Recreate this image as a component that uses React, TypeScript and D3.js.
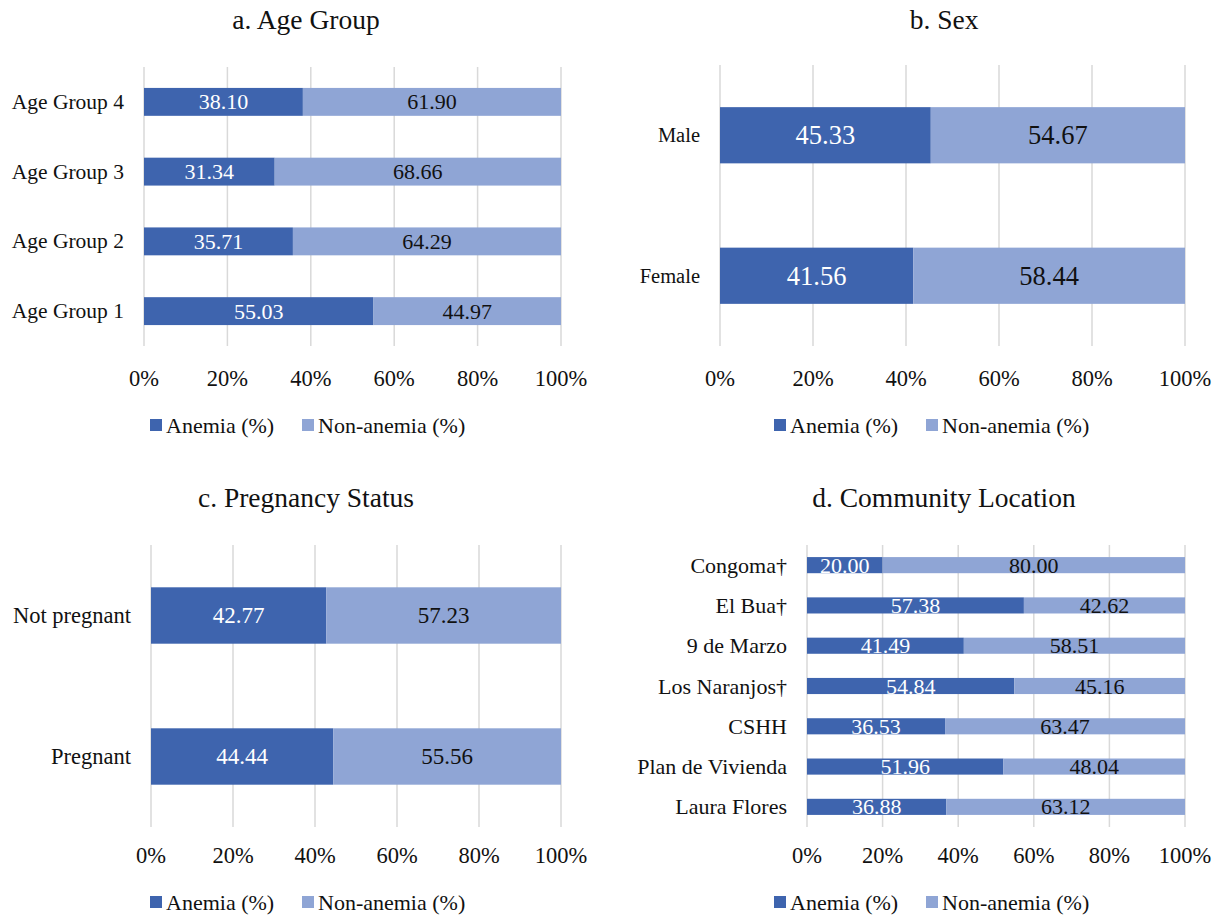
import React from 'react';
import * as d3 from 'd3';

// values (anemia %, non-anemia %)
const ageGroups = ['Age Group 4', 'Age Group 3', 'Age Group 2', 'Age Group 1'];
const ageAnemia = [38.10, 31.34, 35.71, 55.03];
const ageNonAnemia = [61.90, 68.66, 64.29, 44.97];

const sexes = ['Male', 'Female'];
const sexAnemia = [45.33, 41.56];
const sexNonAnemia = [54.67, 58.44];

const pregnancy = ['Not pregnant', 'Pregnant'];
const pregAnemia = [42.77, 44.44];
const pregNonAnemia = [57.23, 55.56];

const communities = ['Congoma†', 'El Bua†', '9 de Marzo', 'Los Naranjos†', 'CSHH', 'Plan de Vivienda', 'Laura Flores'];
const commAnemia = [20.00, 57.38, 41.49, 54.84, 36.53, 51.96, 36.88];
const commNonAnemia = [80.00, 42.62, 58.51, 45.16, 63.47, 48.04, 63.12];

const ticks = [0, 20, 40, 60, 80, 100];
const seriesNames = ['Anemia (%)', 'Non-anemia (%)'];

const DARK = '#3e64ae';
const LIGHT = '#8fa5d5';
const GRID = '#d9d9d9';
const FONT = '"Liberation Serif", serif';

type PanelProps = {
  title: string;
  titleX: number;
  titleY: number;
  cats: string[];
  a: number[];
  b: number[];
  x0: number;
  x1: number;
  y0: number;
  y1: number;
  tickY: number;
  legendY: number;
  legendX: number[];
  catSize: number;
  valSize: number;
};

function Panel(p: PanelProps) {
  const x = d3.scaleLinear().domain([0, 100]).range([p.x0, p.x1]);
  const y = d3.scaleBand().domain(p.cats).range([p.y0, p.y1]).paddingInner(0.6).paddingOuter(0.3);
  const bh = y.bandwidth();

  return (
    <g fontFamily={FONT}>
      <text x={p.titleX} y={p.titleY} textAnchor="middle" dominantBaseline="central" fontSize={27.5} fill="#111">
        {p.title}
      </text>
      {ticks.map(t => (
        <g key={t}>
          <line x1={x(t)} x2={x(t)} y1={p.y0} y2={p.y1} stroke={GRID} strokeWidth={1.5} />
          <text x={x(t)} y={p.tickY} textAnchor="middle" dominantBaseline="central" fontSize={22.5} fill="#111">
            {t + '%'}
          </text>
        </g>
      ))}
      {p.cats.map((c, i) => {
        const yy = y(c) as number;
        const cy = yy + bh / 2;
        return (
          <g key={c}>
            <text x={p.x0 - 20} y={cy} textAnchor="end" dominantBaseline="central" fontSize={p.catSize} fill="#111">
              {c}
            </text>
            <rect x={x(0)} y={yy} width={x(p.a[i]) - x(0)} height={bh} fill={DARK} />
            <rect x={x(p.a[i])} y={yy} width={x(p.a[i] + p.b[i]) - x(p.a[i])} height={bh} fill={LIGHT} />
            <text x={(x(0) + x(p.a[i])) / 2} y={cy} textAnchor="middle" dominantBaseline="central" fontSize={p.valSize} fill="#fff">
              {p.a[i].toFixed(2)}
            </text>
            <text x={(x(p.a[i]) + x(100)) / 2} y={cy} textAnchor="middle" dominantBaseline="central" fontSize={p.valSize} fill="#111">
              {p.b[i].toFixed(2)}
            </text>
          </g>
        );
      })}
      {seriesNames.map((s, i) => (
        <g key={s}>
          <rect x={p.legendX[i]} y={p.legendY - 6} width={12} height={12} fill={i === 0 ? DARK : LIGHT} />
          <text x={p.legendX[i] + 16} y={p.legendY} dominantBaseline="central" fontSize={22} fill="#111">
            {s}
          </text>
        </g>
      ))}
    </g>
  );
}

export default function App() {
  return (
    <svg width={1221} height={919} style={{ position: 'absolute', left: 0, top: 0, background: '#fff' }}>
      <rect width={1221} height={919} fill="#fff" />
      <Panel title="a. Age Group" titleX={306} titleY={19} cats={ageGroups} a={ageAnemia} b={ageNonAnemia}
        x0={144} x1={561} y0={67} y1={346} tickY={378} legendY={425} legendX={[150, 302]}
        catSize={21.5} valSize={22} />
      <Panel title="b. Sex" titleX={944} titleY={19} cats={sexes} a={sexAnemia} b={sexNonAnemia}
        x0={720} x1={1185} y0={65} y1={346} tickY={378} legendY={425} legendX={[774, 926]}
        catSize={20.5} valSize={26.5} />
      <Panel title="c. Pregnancy Status" titleX={306} titleY={497} cats={pregnancy} a={pregAnemia} b={pregNonAnemia}
        x0={151} x1={561} y0={545} y1={827} tickY={855} legendY={902} legendX={[150, 302]}
        catSize={22.5} valSize={23} />
      <Panel title="d. Community Location" titleX={944} titleY={497} cats={communities} a={commAnemia} b={commNonAnemia}
        x0={807} x1={1185} y0={545} y1={827} tickY={855} legendY={902} legendX={[774, 926]}
        catSize={22} valSize={22} />
    </svg>
  );
}
